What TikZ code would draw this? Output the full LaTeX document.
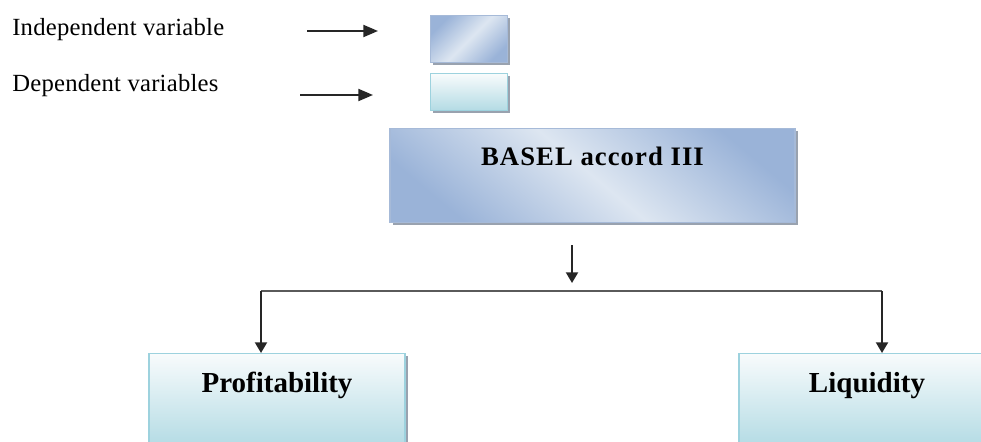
\documentclass[tikz,border=0pt]{standalone}
\usepackage{fontspec}
\setmainfont{Liberation Serif}
\usepackage{tikz}
\usetikzlibrary{shadows,arrows.meta}
\definecolor{indep blue}{HTML}{9AB3D8}
\definecolor{indep light}{HTML}{DDE6F1}
\definecolor{indep edge}{HTML}{A6BAD8}
\definecolor{dep cyan}{HTML}{B3DBE4}
\definecolor{dep light}{HTML}{F8FBFC}
\definecolor{dep edge}{HTML}{9DD2DE}
\definecolor{shadow gray}{HTML}{8E98A6}
\definecolor{line gray}{HTML}{5A5A5A}

\begin{document}
\begin{tikzpicture}[x = 0.75pt, y = -0.75pt,
		indep box/.style = {draw = indep edge, line width = 1pt, shading = axis,
			top color = indep blue, bottom color = indep blue, middle color = indep light,
			shading angle = 45,
			drop shadow = {shadow xshift = 2pt, shadow yshift = -2pt, fill = shadow gray, opacity = .9}},
		dep box/.style = {draw = dep edge, line width = 1pt, shading = axis,
			top color = dep light, bottom color = dep cyan,
			drop shadow = {shadow xshift = 2pt, shadow yshift = -2pt, fill = shadow gray, opacity = .9}},
		key text/.style = {font = \fontsize{18.5}{20}\selectfont\addfontfeature{LetterSpace=1}, inner sep = 0pt},
		arrow line/.style = {line width = 1.5pt, draw = black!85},
		side tip/.style = {-{Triangle[length = 11pt, width = 9pt]}},
		down tip/.style = {-{Triangle[length = 8pt, width = 9pt]}}]
		\useasboundingbox (0, 0) rectangle (981, 442);
		\clip (0, 0) rectangle (981, 442);
		% key
		\node[key text, anchor = base west] (indeptext) at (12, 35.5) {Independent variable};
		\node[key text, anchor = base west] (deptext) at (12, 91.5) {Dependent variables};
		\node[indep box, minimum width = 57.75pt, minimum height = 35.25pt, anchor = north west]
			(indepkey) at (430, 15) {};
		\node[dep box, minimum width = 57.75pt, minimum height = 27.75pt, anchor = north west]
			(depkey) at (430, 73) {};
		\coordinate (indepfrom) at (307, 31);
		\coordinate (indepto) at (378, 31);
		\coordinate (depfrom) at (300, 95);
		\coordinate (depto) at (373, 95);
		\draw[arrow line, side tip] (indepfrom) -- (indepto);
		\draw[arrow line, side tip] (depfrom) -- (depto);
		% main box
		\node[indep box, shading angle = -40, minimum width = 303.75pt,
			font = \fontsize{20}{22}\selectfont\bfseries\addfontfeature{LetterSpace=4},
			text height = 14pt, text depth = 28.5pt, inner ysep = 14pt, anchor = north]
			(basel) at (592.5, 128) {BASEL accord III};
		% outcomes
		\node[dep box, minimum width = 192pt, font = \fontsize{21.75}{24}\selectfont\bfseries,
			text height = 15pt, text depth = 27pt, inner ysep = 14pt, anchor = north]
			(profit) at (277, 353) {Profitability};
		\node[dep box, minimum width = 192pt, font = \fontsize{21.75}{24}\selectfont\bfseries,
			text height = 15pt, text depth = 27pt, inner ysep = 14pt, anchor = north]
			(liquid) at (867, 353) {Liquidity};
		% branches
		\coordinate (splittop) at (572, 245);
		\coordinate (splitend) at (572, 283);
		\coordinate (branchleft) at (261, 291);
		\coordinate (branchright) at (882, 291);
		\draw[arrow line, down tip] (splittop) -- (splitend);
		\draw[line gray, line width = 1.5pt] (branchleft) -- (branchright);
		\draw[arrow line, down tip] (branchleft) -- (branchleft |- profit.north);
		\draw[arrow line, down tip] (branchright) -- (branchright |- liquid.north);
	\end{tikzpicture}
\end{document}
